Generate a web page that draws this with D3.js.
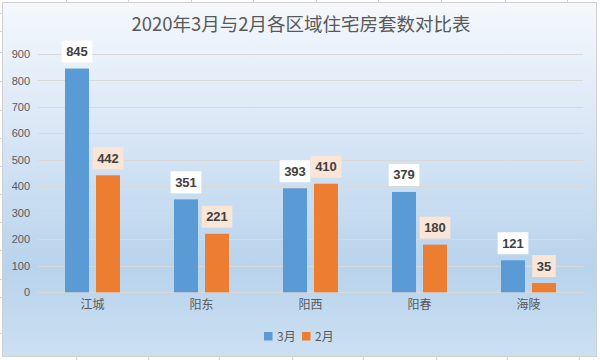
<!DOCTYPE html>
<html><head><meta charset="utf-8">
<script src="https://cdn.jsdelivr.net/npm/d3@7"></script>
<style>html,body{margin:0;padding:0;background:#fff;}svg{display:block;}</style>
</head><body>
<script>
const title = "2020年3月与2月各区域住宅房套数对比表";
const categories = ["江城", "阳东", "阳西", "阳春", "海陵"];
const seriesNames = ["3月", "2月"];
const march = [845, 351, 393, 379, 121];
const february = [442, 221, 410, 180, 35];
const yTicks = [0, 100, 200, 300, 400, 500, 600, 700, 800, 900];

const W = 600, H = 360;
const colors = {"3月": "#5b9bd5", "2月": "#ed7d31"};
const labelFill = {"3月": "#ffffff", "2月": "#fbe5d6"};
const seriesData = {"3月": march, "2月": february};

const svg = d3.select("body").append("svg").attr("width", W).attr("height", H);
const defs = svg.append("defs");
const grad = defs.append("linearGradient").attr("id", "bg").attr("x1", 0).attr("y1", 0).attr("x2", 0).attr("y2", 1);
grad.append("stop").attr("offset", "0%").attr("stop-color", "#f5f8fd");
grad.append("stop").attr("offset", "40%").attr("stop-color", "#d6e5f5");
grad.append("stop").attr("offset", "75%").attr("stop-color", "#b8d3ec");
grad.append("stop").attr("offset", "100%").attr("stop-color", "#cce0f2");

// sheet cell lines outside chart
const sheet = svg.append("g").attr("stroke", "#d4d4d4").attr("stroke-width", 1);
[66,128,191,253,316,378,441,505,567].forEach(x => sheet.append("line").attr("x1", x+0.5).attr("x2", x+0.5).attr("y1", 0).attr("y2", 2));
[76,148,219,292,363,436,507,579].forEach(x => sheet.append("line").attr("x1", x+0.5).attr("x2", x+0.5).attr("y1", 357).attr("y2", 360));
[13,31,52,81,110,138,166,194,222,250,279,297,333].forEach(y => sheet.append("line").attr("x1", 0).attr("x2", 2).attr("y1", y+0.5).attr("y2", y+0.5));

// chart area
svg.append("rect").attr("x", 2.5).attr("y", 2.5).attr("width", 594).attr("height", 354)
  .attr("fill", "url(#bg)").attr("stroke", "#d0d0d0").attr("stroke-width", 1);

svg.append("text").attr("x", 301).attr("y", 31).attr("text-anchor", "middle")
  .attr("font-family", "'Noto Sans CJK SC', sans-serif").attr("font-size", 18.5)
  .attr("fill", "#595959").text(title);

const plotL = 38, plotR = 583;
const y = d3.scaleLinear().domain([0, 900]).range([292.3, 54]);
const x0 = d3.scaleBand().domain(categories).range([plotL, plotR]).paddingInner(54/109).paddingOuter(27/109);
const x1 = d3.scaleBand().domain(seriesNames).range([0, x0.bandwidth()]).paddingInner(7/31).paddingOuter(0);

// gridlines
svg.append("g").selectAll("line").data(yTicks).join("line")
  .attr("x1", plotL).attr("x2", plotR)
  .attr("y1", d => Math.round(y(d)) + 0.5).attr("y2", d => Math.round(y(d)) + 0.5)
  .attr("stroke", "#d9d9d9").attr("stroke-width", 1);

// y axis labels
const yAxis = d3.axisLeft(y).tickValues(yTicks).tickSize(0).tickPadding(0);
const yg = svg.append("g").attr("transform", `translate(30,0)`).call(yAxis);
yg.select(".domain").remove();
yg.selectAll("text").attr("font-family", "'Liberation Sans', Arial, sans-serif").attr("font-size", 11).attr("fill", "#595959");

// x axis labels
const xAxis = d3.axisBottom(x0).tickSize(0).tickPadding(0);
const xg = svg.append("g").attr("transform", `translate(0,300)`).call(xAxis);
xg.select(".domain").remove();
xg.selectAll("text").attr("font-family", "'Noto Sans CJK SC', sans-serif").attr("font-size", 12).attr("fill", "#595959");

// bars
const groups = svg.append("g").selectAll("g").data(categories).join("g")
  .attr("transform", d => `translate(${x0(d)},0)`);
const items = (c, i) => seriesNames.map(s => ({s, v: seriesData[s][i]}));
groups.selectAll("rect").data((c, i) => items(c, i)).join("rect")
  .attr("x", d => x1(d.s)).attr("width", x1.bandwidth())
  .attr("y", d => y(d.v)).attr("height", d => y(0) - y(d.v))
  .attr("fill", d => colors[d.s]);

// data labels
const lbl = groups.selectAll("g.lbl").data((c, i) => items(c, i)).join("g").attr("class", "lbl");
lbl.each(function(d) {
  const g = d3.select(this);
  const cx = x1(d.s) + x1.bandwidth() / 2;
  const t = g.append("text").attr("x", cx).attr("text-anchor", "middle")
    .attr("font-family", "'Liberation Sans', Arial, sans-serif").attr("font-weight", "bold")
    .attr("font-size", 13).attr("fill", "#404040").text(d.v);
  const tw = t.node().getComputedTextLength();
  const bw = tw + 9, bh = 22;
  const bottom = y(d.v) - 6;
  g.insert("rect", "text").attr("x", cx - bw / 2).attr("y", bottom - bh).attr("width", bw).attr("height", bh)
    .attr("fill", labelFill[d.s]);
  t.attr("y", bottom - 6.5);
});

// legend
const leg = svg.append("g");
const legX = [264, 302];
seriesNames.forEach((s, i) => {
  leg.append("rect").attr("x", legX[i]).attr("y", 332).attr("width", 8.5).attr("height", 8.5).attr("fill", colors[s]);
  leg.append("text").attr("x", legX[i] + 13).attr("y", 341).attr("font-family", "'Noto Sans CJK SC', sans-serif")
    .attr("font-size", 12).attr("fill", "#595959").text(s);
});
</script>
</body></html>
